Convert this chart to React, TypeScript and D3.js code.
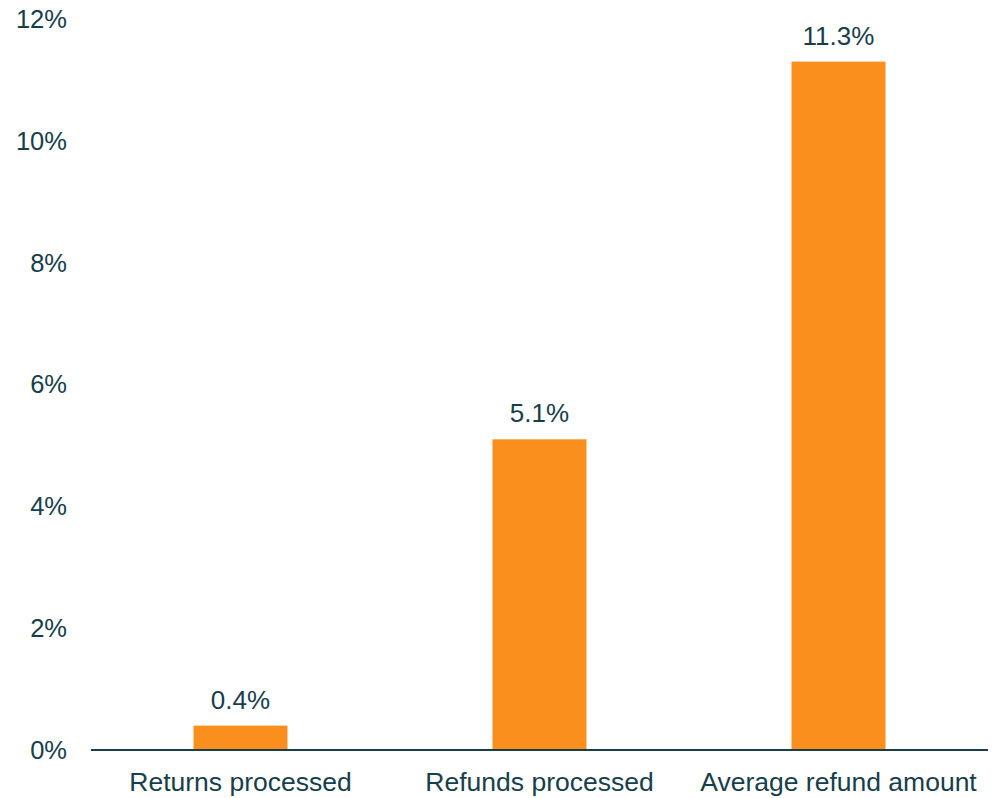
import React from "react";
import * as d3 from "d3";

const categories = ["Returns processed", "Refunds processed", "Average refund amount"];
const values = [0.4, 5.1, 11.3];
const yTicks = [0, 2, 4, 6, 8, 10, 12];

const W = 999;
const H = 798;
const TEXT = "#173E4A";
const BAR = "#FA8F1E";
const FONT = "Liberation Sans, Arial, sans-serif";

export default function App() {
  const x = d3.scaleBand<string>().domain(categories).range([91, 988]).paddingInner(0).paddingOuter(0);
  const y = d3.scaleLinear().domain([0, 12]).range([750, 19]);
  const barW = 94;

  return (
    <svg width={W} height={H} style={{ position: "absolute", left: 0, top: 0 }}>
      <rect width={W} height={H} fill="#fff" />
      {yTicks.map((t) => (
        <text key={t} x={67} y={y(t)} dy="0.35em" textAnchor="end" fontFamily={FONT} fontSize={25.5} fill={TEXT}>
          {t}%
        </text>
      ))}
      {categories.map((c, i) => {
        const cx = (x(c) as number) + x.bandwidth() / 2;
        return (
          <g key={c}>
            <rect x={cx - barW / 2} y={y(values[i])} width={barW} height={y(0) - y(values[i])} fill={BAR} />
            <text x={cx} y={y(values[i]) - 17} textAnchor="middle" fontFamily={FONT} fontSize={26} fill={TEXT}>
              {values[i].toFixed(1)}%
            </text>
            <text x={cx} y={791} textAnchor="middle" fontFamily={FONT} fontSize={26.5} fill={TEXT}>
              {c}
            </text>
          </g>
        );
      })}
      <line x1={91} x2={988} y1={y(0)} y2={y(0)} stroke={TEXT} strokeWidth={2} />
    </svg>
  );
}
